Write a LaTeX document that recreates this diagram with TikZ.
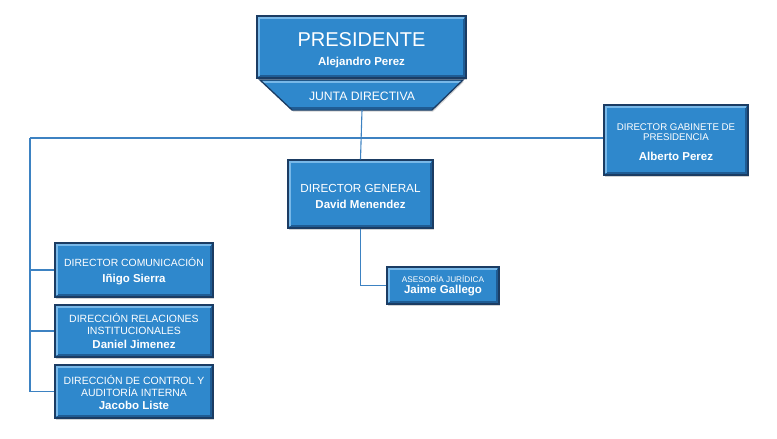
\documentclass[tikz,border=0pt]{standalone}
\usepackage{fontspec}
\setmainfont{Liberation Sans}
\usetikzlibrary{positioning,calc,shadows}
\definecolor{boxblue}{HTML}{2F88CC}
\definecolor{boxedge}{HTML}{1B3C63}
\definecolor{boxlight}{HTML}{78B8E8}
\definecolor{boxdark}{HTML}{1F5C94}
\definecolor{linkblue}{HTML}{3D82C2}
\newcommand{\lift}[1]{\rule{0pt}{#1}}
\begin{document}
\begin{tikzpicture}[x=1pt,y=-1pt,
  box/.style={draw=boxedge,fill=boxblue,line width=1.3pt,text=white,align=center,inner sep=2pt,
    drop shadow={opacity=0.35,shadow xshift=1.2pt,shadow yshift=-1.5pt},
    path picture={
      \draw[boxdark,line width=1.6pt] ([xshift=2pt,yshift=2pt]path picture bounding box.south west) -| ([xshift=-2pt,yshift=-2pt]path picture bounding box.north east);
      \draw[boxlight,line width=1.2pt] ([xshift=2pt,yshift=2pt]path picture bounding box.south west) |- ([xshift=-2pt,yshift=-2pt]path picture bounding box.north east);}},
  link/.style={draw=linkblue,line width=1.1pt}]
  \useasboundingbox (0,0) rectangle (777,439);
  % presidencia
  \node[box,minimum width=209pt,minimum height=62pt,font=\fontsize{20}{19}\selectfont] (pres) at (361.5,47)
    {\lift{21pt}PRESIDENTE\\\bfseries\fontsize{11.5}{19}\selectfont Alejandro Perez};
  \path[box] (260,80) -- (463,80) -- (432,110) -- (292,110) -- cycle;
  \node[text=white,font=\fontsize{12.2}{14}\selectfont] (junta) at (362,96) {JUNTA DIRECTIVA};
  \coordinate (jbase) at (362,110);
  % cargos
  \node[box,minimum width=144pt,minimum height=70pt,font=\fontsize{9.7}{10.5}\selectfont] (gab) at (676,140)
    {\lift{11pt}DIRECTOR GABINETE DE\\PRESIDENCIA\\[9pt]\bfseries\fontsize{11.5}{10.5}\selectfont Alberto Perez};
  \node[box,minimum width=145pt,minimum height=68pt,font=\fontsize{11.7}{15}\selectfont] (dg) at (360.5,194)
    {\lift{13pt}DIRECTOR GENERAL\\[1pt]\bfseries\fontsize{11.5}{15}\selectfont David Menendez};
  \node[box,minimum width=112pt,minimum height=37pt,font=\fontsize{8.2}{10}\selectfont] (ases) at (443,285.5)
    {ASESORÍA JURÍDICA\\[1pt]\bfseries\fontsize{11.5}{10}\selectfont Jaime Gallego};
  \node[box,minimum width=158pt,minimum height=54pt,font=\fontsize{10.4}{16}\selectfont] (com) at (134,270)
    {\lift{12pt}DIRECTOR COMUNICACIÓN\\\bfseries\fontsize{11.5}{16}\selectfont Iñigo Sierra};
  \node[box,minimum width=158pt,minimum height=52pt,font=\fontsize{10.5}{12}\selectfont] (rel) at (134,331)
    {DIRECCIÓN RELACIONES\\INSTITUCIONALES\\[2pt]\bfseries\fontsize{11.5}{12}\selectfont Daniel Jimenez};
  \node[box,minimum width=158pt,minimum height=53pt,font=\fontsize{10.5}{12}\selectfont] (ctl) at (134,391.5)
    {\lift{12pt}DIRECCIÓN DE CONTROL Y\\AUDITORÍA INTERNA\\[1pt]\bfseries\fontsize{11.5}{12}\selectfont Jacobo Liste};
  % conexiones
  \coordinate (lft) at (30,138);
  \draw[link] (jbase) -- (dg.north);
  \draw[link] (lft) -- (lft -| gab.west);
  \draw[link] (lft) |- (com.west);
  \draw[link] (lft) |- (rel.west);
  \draw[link] (lft) |- (ctl.west);
  \draw[link] (dg.south) |- (ases.west);
\end{tikzpicture}
\end{document}
